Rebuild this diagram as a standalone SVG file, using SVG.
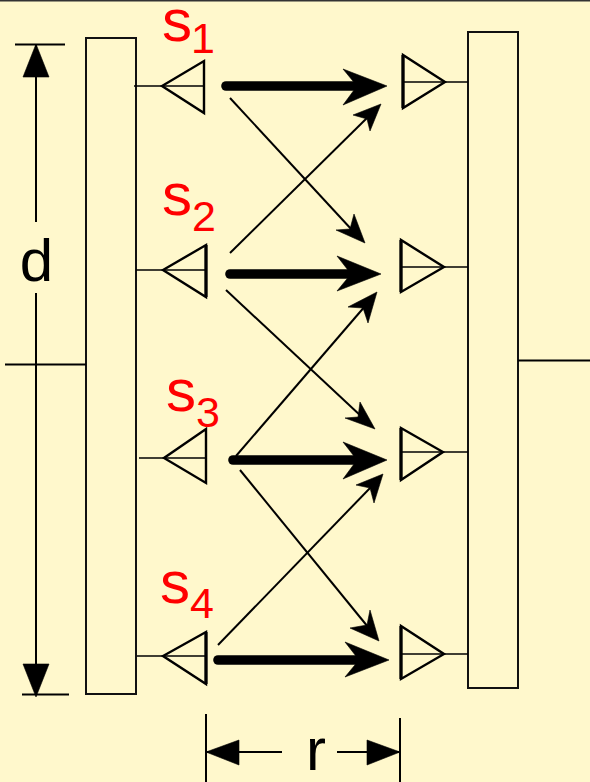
<svg xmlns="http://www.w3.org/2000/svg" width="590" height="782" viewBox="0 0 590 782">
<style>
.ln{stroke:#000;stroke-width:2;fill:none}
.box{stroke:#111;stroke-width:2;fill:#fff8cc}
.ant{stroke:#000;stroke-width:2.4;fill:none;stroke-linejoin:miter}
.feed{stroke:#000;stroke-width:1.6;fill:none}
.back{stroke:#000;stroke-width:3.2;fill:none}
.thick{stroke:#000;stroke-width:9.6;stroke-linecap:round;fill:none}
.thin{stroke:#000;stroke-width:2;fill:none}
.hd{fill:#000;stroke:#000;stroke-width:.6}
.lbl{font-family:"Liberation Sans",Arial,sans-serif;fill:#000;font-size:60px}
.sl{font-family:"Liberation Sans",Arial,sans-serif;fill:#f00;font-size:60px}
.sub{font-size:43px}
</style>
<rect width="590" height="782" fill="#fff8cc"/>
<line x1="0" y1="0.5" x2="590" y2="0.5" stroke="#333" stroke-width="2"/>
<g id="feed-left"><rect class="box" x="86" y="38" width="50" height="656"/><line class="ln" x1="5" y1="364.5" x2="86" y2="364.5"/></g>
<g id="feed-right"><rect class="box" x="468" y="32" width="50" height="656"/><line class="ln" x1="518" y1="360.5" x2="590" y2="360.5"/></g>
<g id="tx1"><path class="ant" d="M204 61V113L162 86Z"/><path class="feed" d="M134 86H204"/></g>
<g id="tx2"><path class="ant" d="M206 245V297L163 270Z"/><path class="back" d="M206 245V297"/><path class="feed" d="M136 270H206"/></g>
<g id="tx3"><path class="ant" d="M206 429V483L164 458Z"/><path class="feed" d="M139 458H206"/></g>
<g id="tx4"><path class="ant" d="M206 632V684L163 656Z"/><path class="back" d="M206 632V684"/><path class="feed" d="M137 656H206"/></g>
<g id="rx1"><path class="ant" d="M403 55V108L445 82Z"/><path class="back" d="M403 55V108"/><path class="feed" d="M403 82H468"/></g>
<g id="rx2"><path class="ant" d="M401 240V292L444 267Z"/><path class="back" d="M401 240V292"/><path class="feed" d="M401 267H468"/></g>
<g id="rx3"><path class="ant" d="M401 428V480L443 452Z"/><path class="back" d="M401 428V480"/><path class="feed" d="M401 452H468"/></g>
<g id="rx4"><path class="ant" d="M401 626V679L444 654Z"/><path class="back" d="M401 626V679"/><path class="feed" d="M401 654H468"/></g>
<g id="connectors">
<line class="thick" x1="226" y1="86" x2="365" y2="86"/><path class="hd" d="M387 86L343 69L357 86L343 105Z"/>
<line class="thick" x1="230" y1="274" x2="359" y2="274"/><path class="hd" d="M381 274L337 256L351 274L337 291Z"/>
<line class="thick" x1="233" y1="460" x2="365" y2="460"/><path class="hd" d="M387 460L343 442L357 460L343 479Z"/>
<line class="thick" x1="218" y1="660" x2="367" y2="660"/><path class="hd" d="M389 660L345 642L359 660L345 677Z"/>
<line class="thin" x1="230" y1="98" x2="352" y2="230"/><path class="hd" d="M365 243L354 214L350 229L336 230Z"/>
<line class="thin" x1="230" y1="253" x2="370" y2="115"/><path class="hd" d="M381 104L353 115L367 119L370 131Z"/>
<line class="thin" x1="226" y1="290" x2="362" y2="417"/><path class="hd" d="M375 429L360 402L358 417L345 418Z"/>
<line class="thin" x1="236" y1="456" x2="366" y2="305"/><path class="hd" d="M377 292L348 307L363 308L368 323Z"/>
<line class="thin" x1="240" y1="470" x2="368" y2="627"/><path class="hd" d="M379 641L370 610L367 625L350 628Z"/>
<line class="thin" x1="218" y1="645" x2="372" y2="486"/><path class="hd" d="M383 474L356 485L370 488L374 503Z"/>
</g>
<g id="dim-d">
<path class="ln" d="M15 44.500H65M22 694.500H69M36 44V222M36 293V690"/>
<path class="hd" d="M36 44L49 77H23ZM36 697L49 664H23Z"/>
<text class="lbl" x="36.500" y="281" text-anchor="middle">d</text>
</g>
<g id="dim-r">
<path class="ln" d="M206 714V782M400 718V782M206 752H282M337 752H400"/>
<path class="hd" d="M206 752L239 740V765ZM400 752L367 740V765Z"/>
<text class="lbl" x="316" y="770" text-anchor="middle">r</text>
</g>
<g id="labels">
<text class="sl" x="162" y="41">s<tspan class="sub" dy="12" dx="-1">1</tspan></text>
<text class="sl" x="162" y="215">s<tspan class="sub" dy="16">2</tspan></text>
<text class="sl" x="166" y="411">s<tspan class="sub" dy="16">3</tspan></text>
<text class="sl" x="160" y="603">s<tspan class="sub" dy="15">4</tspan></text>
</g>
</svg>
